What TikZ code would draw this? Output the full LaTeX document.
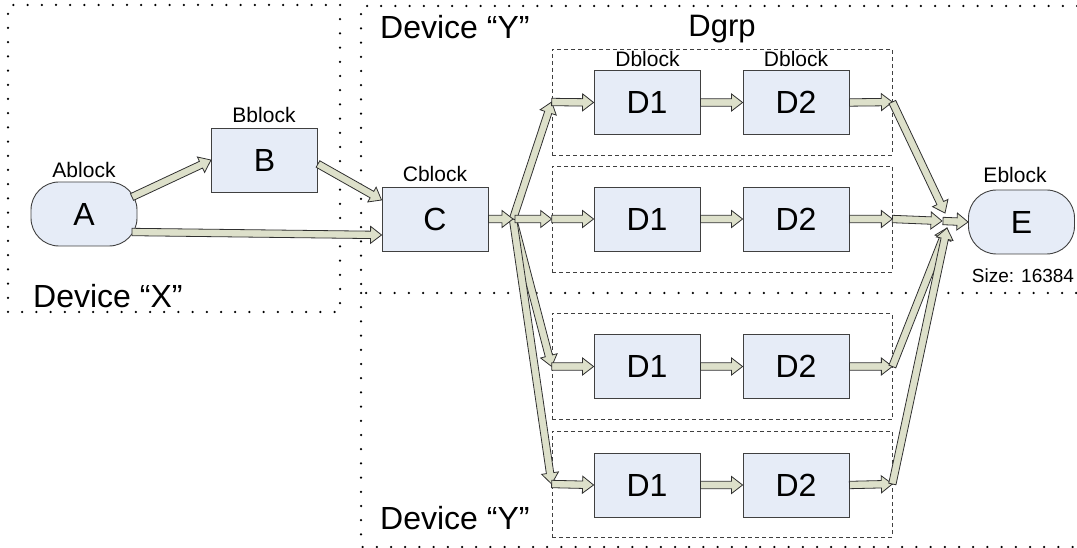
\documentclass[tikz,border=0pt]{standalone}
\usepackage{fontspec}
\setmainfont{Liberation Sans}
\usetikzlibrary{calc}
\definecolor{nodefill}{HTML}{E6ECF7}
\definecolor{nodeline}{HTML}{404040}
\definecolor{arrfill}{HTML}{DDE0CA}
\definecolor{arrline}{HTML}{303030}
\tikzset{
  blk/.style={draw=nodeline, fill=nodefill, line width=0.9pt, minimum width=106pt, minimum height=64pt, inner sep=0pt, font=\fontsize{32}{34}\selectfont},
  rblk/.style={blk, rounded corners=28pt},
  lbl/.style={anchor=base, inner sep=0pt, font=\fontsize{21}{24}\selectfont},
  smalllbl/.style={anchor=base, inner sep=0pt, font=\fontsize{19}{22}\selectfont},
  devlbl/.style={anchor=base west, inner sep=0pt, font=\fontsize{32}{36}\selectfont},
  grplbl/.style={anchor=base, inner sep=0pt, font=\fontsize{31}{34}\selectfont},
  grp/.style={draw=nodeline, dash pattern=on 4pt off 3pt, line width=0.7pt, minimum width=340pt, minimum height=106pt, inner sep=0pt},
  dotline/.style={line width=2.5pt, dash pattern=on 0pt off 14.2pt, line cap=round},
  barr/.style={draw=arrline, fill=arrfill, line width=0.8pt, line join=miter},
}
\newcommand{\barrow}[2]{%
  \path[barr] let \p1=(#1), \p2=(#2), \n1={atan2(\y2-\y1,\x2-\x1)}, \n2={veclen(\x2-\x1,\y2-\y1)} in
   [shift={(\p1)}, rotate=\n1] (0pt,-3.7pt) -- ({\n2-11pt},-3.7pt) -- ({\n2-11pt},-8.5pt) -- (\n2,0pt) -- ({\n2-11pt},8.5pt) -- ({\n2-11pt},3.7pt) -- (0pt,3.7pt) -- cycle;}
\begin{document}
\begin{tikzpicture}[x=1pt,y=-1pt]
\useasboundingbox (0,0) rectangle (1077,548);
% dotted device regions
\draw[dotline] (340,5) -- (8,5) -- (8,312) -- (340,312) -- cycle;
\draw[dotline] (1077,6) -- (361,6) -- (361,293) -- (1077,293);
\draw[dotline] (361,293) -- (361,547) -- (1077,547);
% device labels
\node[devlbl] (devx) at (33,308) {Device “X”};
\node[devlbl] (devy1) at (380,39) {Device “Y”};
\node[devlbl] (devy2) at (380,529) {Device “Y”};
% groups
\node[grp] (g1) at (722,102) {};
\node[grp] (g2) at (722,219) {};
\node[grp] (g3) at (722,366.5) {};
\node[grp] (g4) at (722,484) {};
\node[grplbl] (dgrp) at (722,37) {Dgrp};
% blocks
\node[rblk] (A) at (84,214) {A};
\node[blk] (B) at (264.5,160) {B};
\node[blk] (C) at (435,219) {C};
\node[rblk] (E) at (1021.5,222) {E};
\foreach \r/\y in {1/102.5,2/219,3/366.5,4/485}{
  \node[blk] (D1\r) at (647,\y) {D1};
  \node[blk] (D2\r) at (796,\y) {D2};
}
% labels
\node[lbl] (la) at (84,178) {Ablock};
\node[lbl] (lb) at (264,123) {Bblock};
\node[lbl] (lc) at (435,182) {Cblock};
\node[lbl] (ld1) at (647.5,67) {Dblock};
\node[lbl] (ld2) at (796,67) {Dblock};
\node[lbl] (le) at (1015,183) {Eblock};
\node[smalllbl] (lsize) at (1023,283) {Size: 16384};
% junctions
\coordinate (J) at (513,219);
\coordinate (J2) at (515,219);
\coordinate (K1) at (945,213);
\coordinate (K2) at (942,221);
\coordinate (K3) at (947,228);
\coordinate (K) at (943,221);
% arrows
\barrow{$(A)+(48,-17)$}{B.west}
\barrow{$(A)+(48,18)$}{$(C.west)+(0,16)$}
\barrow{$(B.east)+(0,4)$}{$(C.west)+(0,-19)$}
\barrow{J}{g3.west}
\barrow{J}{g4.west}
\barrow{J}{g1.west}
\barrow{C.east}{J}
\barrow{J2}{g2.west}
\foreach \r in {1,2,3,4}{
  \barrow{g\r.west}{D1\r.west}
  \barrow{D1\r.east}{D2\r.west}
  \barrow{D2\r.east}{g\r.east}
}
\barrow{g3.east}{K3}
\barrow{g4.east}{K3}
\barrow{g1.east}{K1}
\barrow{g2.east}{K2}
\barrow{K}{E.west}
\end{tikzpicture}
\end{document}
